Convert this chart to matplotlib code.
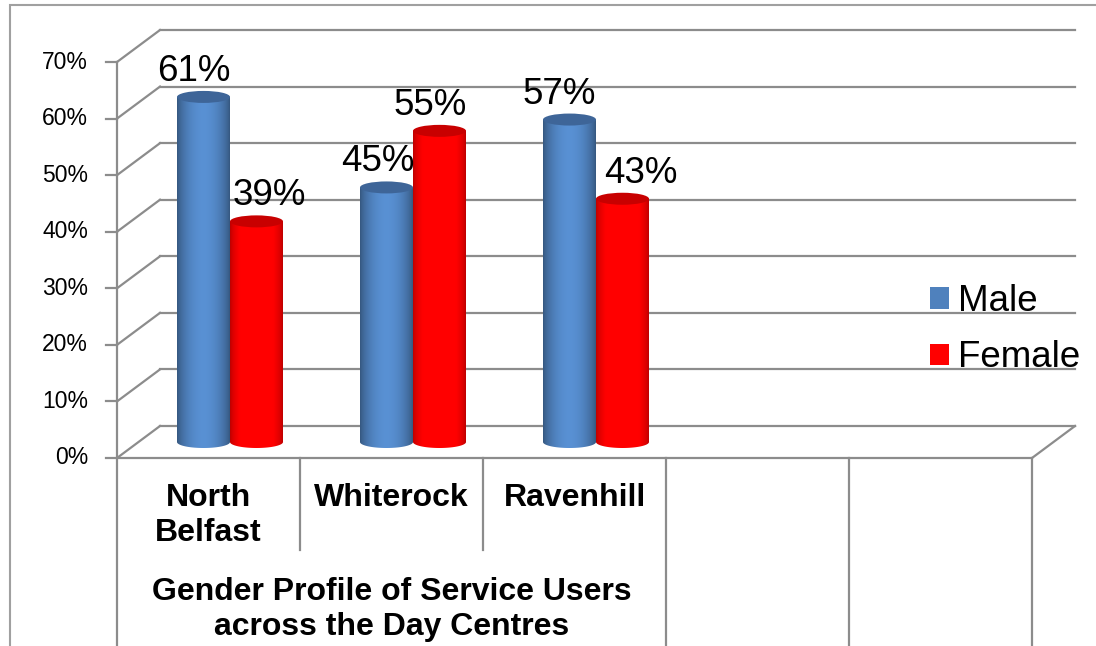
import numpy as np
import matplotlib
matplotlib.use('Agg')
import matplotlib.pyplot as plt
from matplotlib.path import Path
from matplotlib.patches import Ellipse, PathPatch, Patch, Rectangle

# data
categories = ['North\nBelfast', 'Whiterock', 'Ravenhill', '', '']
male = [61, 45, 57]
female = [39, 55, 43]
series_names = ['Male', 'Female']
y_ticks = [0, 10, 20, 30, 40, 50, 60, 70]
group_label = 'Gender Profile of Service Users\nacross the Day Centres'
group_span = 3  # categories covered by the group label

# horizontal nudges of the value labels (pixels), as excel placed them
male_label_dx = [-10, -9, -10]
female_label_dx = [13, -9, 18]

plt.rcParams['font.family'] = ['Liberation Sans', 'DejaVu Sans']

blue = np.array([79, 129, 189]) / 255
red = np.array([255, 0, 0]) / 255
blue_top = '#3e6598'
red_top = '#c80000'
grid = '#8c8c8c'

fig = plt.figure(figsize=(10.96, 6.46), dpi=100)
ax = fig.add_axes([0, 0, 1, 1])
ax.axis('off')

# pixel scale of the chart (origin of the front plane at px 117, 458)
PX_X = 183.0
PX_Y = 5.657
X0, Y0 = 117, 458
DX, DY = 43 / PX_X, 32 / PX_Y   # 3d depth offset
PT = 0.72                        # points per pixel at dpi 100
ncat = len(categories)
ymax = y_ticks[-1]

# back wall, side wall and ticks
for t in y_ticks:
    ax.plot([DX, ncat + DX], [t + DY, t + DY], color=grid, lw=1.6, zorder=1)
    ax.plot([0, DX], [t, t + DY], color=grid, lw=1.6, zorder=1)
    ax.plot([-11 / PX_X, 0], [t, t], color=grid, lw=1.6, zorder=1)
    ax.annotate(f'{t}%', (0, t), xytext=(-29 * PT, 0), textcoords='offset points',
                ha='right', va='center', fontsize=16.5)

# floor and category dividers
ax.plot([0, ncat], [0, 0], color=grid, lw=1.6, zorder=1)
ax.plot([ncat, ncat + DX], [0, DY], color=grid, lw=1.6, zorder=1)
for i in range(ncat + 1):
    low = -16.3 if 0 < i < group_span else -60
    ax.plot([i, i], [ymax if i == 0 else 0, low], color=grid, lw=1.6, zorder=1)

w = 53 / PX_X      # cylinder width
eh = 12 / PX_Y     # ellipse height


def cylinder(xc, v, color, top_color, z):
    x0, x1 = xc - w / 2, xc + w / 2
    base = DY / 2
    top = v + DY / 2
    th = np.linspace(np.pi, 2 * np.pi, 60)
    verts = [(x0, top)] + list(zip(xc + w / 2 * np.cos(th), base + eh / 2 * np.sin(th)))
    verts += [(x1, top), (x0, top)]
    codes = [Path.MOVETO] + [Path.LINETO] * (len(verts) - 2) + [Path.CLOSEPOLY]
    body = PathPatch(Path(verts, codes), fc='none', ec='none')
    ax.add_patch(body)
    t = np.linspace(0, 1, 200)
    if color is blue:
        shade = 0.66 + 0.46 * np.sin(np.pi * t) ** 0.7
    else:
        shade = 0.72 + 0.4 * np.sin(np.pi * t) ** 0.6
    img = np.clip(color[None, None, :] * shade[None, :, None], 0, 1)
    im = ax.imshow(img, extent=[x0, x1, base - eh / 2, top], aspect='auto',
                   interpolation='bilinear', zorder=z)
    im.set_clip_path(body)
    ax.add_patch(Ellipse((xc, top), w, eh, fc=top_color, ec='none', zorder=z + 0.1))
    return top


for i in range(len(male)):
    xm = i + 0.5 + DX / 2 - w / 2
    xf = i + 0.5 + DX / 2 + w / 2
    tm = cylinder(xm, male[i], blue, blue_top, 3)
    tf = cylinder(xf, female[i], red, red_top, 4)
    ax.annotate(f'{male[i]}%', (xm, tm), xytext=(male_label_dx[i] * PT, 16 * PT),
                textcoords='offset points', ha='center', va='baseline', fontsize=26.5, zorder=6)
    ax.annotate(f'{female[i]}%', (xf, tf), xytext=(female_label_dx[i] * PT, 16 * PT),
                textcoords='offset points', ha='center', va='baseline', fontsize=26.5, zorder=6)

# category labels
for i, c in enumerate(categories):
    ax.annotate(c, (i + 0.5, 0), xytext=(0, -25 * PT), textcoords='offset points',
                ha='center', va='top', fontsize=23, fontweight='bold', linespacing=1.2)
ax.annotate(group_label, (group_span / 2, 0), xytext=(0, -119 * PT), textcoords='offset points',
            ha='center', va='top', fontsize=23, fontweight='bold', linespacing=1.2)

ax.set_xlim(-X0 / PX_X, (1096 - X0) / PX_X)
ax.set_ylim((Y0 - 646) / PX_Y, Y0 / PX_Y)

# legend
handles = [Patch(fc=blue), Patch(fc=red)]
fig.legend(handles, series_names, loc='upper left', bbox_to_anchor=(930 / 1096, 1 - 284 / 646),
           frameon=False, fontsize=26.5, handlelength=0.52, handleheight=0.52,
           handletextpad=0.25, labelspacing=0.58, borderpad=0, borderaxespad=0)

# chart frame
fig.add_artist(Rectangle((10 / 1096, -0.1), 1.2, 1.1 - 5 / 646, transform=fig.transFigure,
                         fill=False, ec='#a0a0a0', lw=1.5))

fig.savefig('out.png', dpi=100)
